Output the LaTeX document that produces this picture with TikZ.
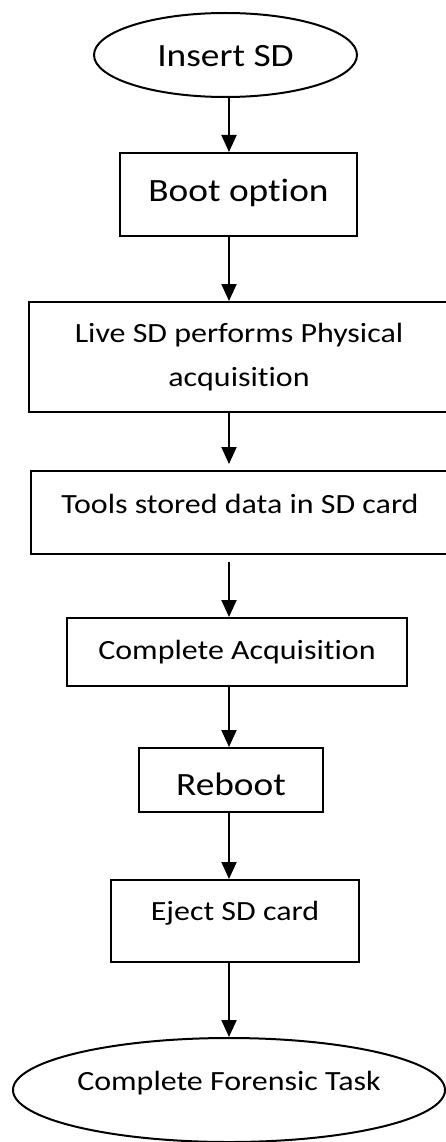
\documentclass[tikz,border=0pt]{standalone}
\usepackage{fontspec}
\setmainfont{Carlito}[FakeStretch=1.15,Ligatures=NoCommon]
\usetikzlibrary{arrows.meta,shapes.geometric}

\begin{document}
\begin{tikzpicture}[x=1pt,y=-1pt,
    box/.style={shape=rectangle,draw=black,line width=2pt,inner sep=0pt},
    oval/.style={shape=ellipse,draw=black,line width=2pt,inner sep=0pt},
    bigtext/.style={font=\fontsize{32.5}{39}\selectfont},
    smalltext/.style={font=\fontsize{27.8}{44}\selectfont},
    flow/.style={line width=2pt,-{Triangle[length=17pt,width=15pt]}}]
    \useasboundingbox (0,0) rectangle (445,1142);
    \coordinate (axis) at (229,0);
    \node[oval,bigtext,minimum width=263pt,minimum height=84pt,text height=28pt,text depth=4pt] (insert) at (225.5,55) {Insert SD};
     \node[box,bigtext,minimum width=237pt,minimum height=83pt,text height=20pt,text depth=7pt] (boot) at (238.5,194.5) {Boot option};
      \node[box,smalltext,align=center,minimum width=420pt,minimum height=110pt] (live) at (239,357) {Live SD performs Physical\\acquisition};
       \node[box,smalltext,minimum width=418pt,minimum height=83pt,text height=10pt,text depth=9pt] (tools) at (240,512.5) {Tools stored data in SD card};
    \node[box,smalltext,minimum width=340pt,minimum height=68pt,text height=20pt,text depth=6pt] (acq) at (237,652) {Complete Acquisition};
    \node[box,bigtext,minimum width=184pt,minimum height=64pt,text height=32pt,text depth=2pt] (reboot) at (231,780) {Reboot};
    \node[box,smalltext,minimum width=248pt,minimum height=82pt,text height=9pt,text depth=11pt] (eject) at (235,921) {Eject SD card};
    \node[oval,smalltext,minimum width=432pt,minimum height=104pt,text height=10pt,text depth=10pt] (task) at (229,1090) {Complete Forensic Task};
    \path [flow] (insert.south -| axis) edge (boot.north -| axis);
    \path [flow] (boot.south -| axis) edge (live.north -| axis);
    \path [flow,shorten >=6pt] (live.south -| axis) edge (tools.north -| axis);
    \path [flow,shorten <=7pt] (tools.south -| axis) edge (acq.north -| axis);
    \path [flow] (acq.south -| axis) edge (reboot.north -| axis);
    \path [flow] (reboot.south -| axis) edge (eject.north -| axis);
    \path [flow] (eject.south -| axis) edge (task.north -| axis);
\end{tikzpicture}
\end{document}
